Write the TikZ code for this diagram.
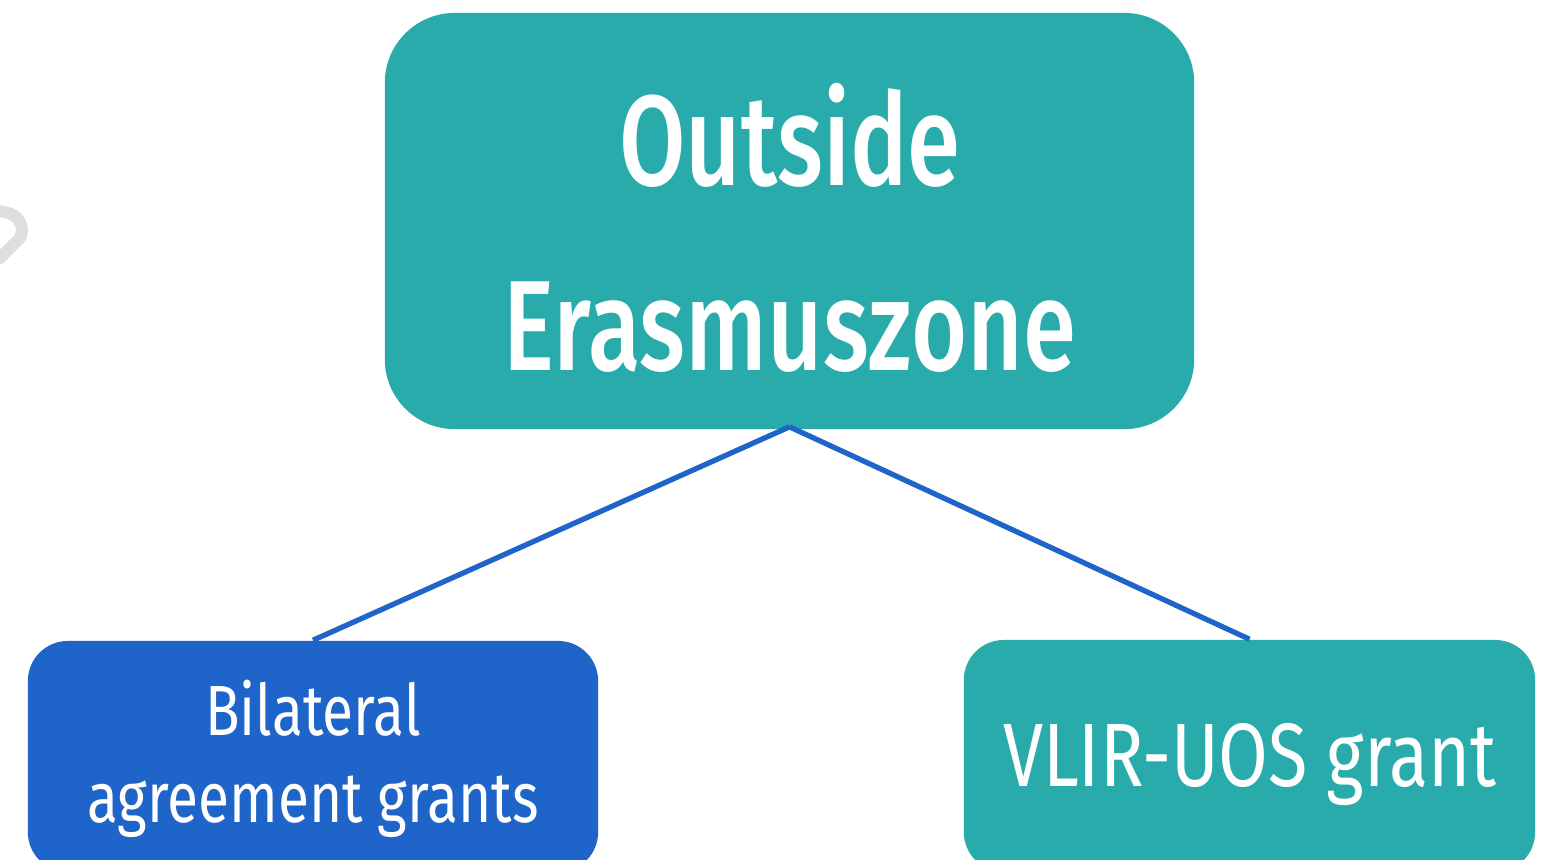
\documentclass[tikz,border=0pt]{standalone}
\usepackage{fontspec}
\setmainfont{Fira Sans}[FakeStretch=0.80]
\newfontfamily\headfont{Fira Sans Medium}[FakeStretch=0.75]
\definecolor{teal1}{RGB}{41,171,172}
\definecolor{blue1}{RGB}{31,100,200}
\definecolor{ghost}{RGB}{222,222,222}
\tikzset{
  box/.style={draw=none, rounded corners=#1, inner sep=0pt},
  lbl/.style={text=white, anchor=base, inner sep=0pt},
  link/.style={draw=blue1, line width=1.5pt},
}
\begin{document}
\begin{tikzpicture}[x=0.01cm,y=-0.01cm]
\useasboundingbox (0,0) rectangle (1550,859);
\clip (0,0) rectangle (1550,859);
\fill[white] (0,0) rectangle (1550,859);
% faint partial shape at left edge
\draw[ghost, line width=3.4pt, line cap=round] (-10,212) .. controls (10,208) and (28,220) .. (20,238) -- (0,258);
% boxes
\node[box=0.7cm, fill=teal1, minimum width=8.09cm, minimum height=4.16cm] (top) at (789.5,221) {};
\node[box=0.4cm, fill=blue1, minimum width=5.70cm, minimum height=2.31cm] (bl) at (313,756.5) {};
\node[box=0.4cm, fill=teal1, minimum width=5.71cm, minimum height=2.32cm] (br) at (1249.5,756) {};
% connectors
\draw[link] ([yshift=0.03cm]top.south) -- (bl.north);
\draw[link] ([yshift=0.03cm]top.south) -- (br.north);
% texts
\node[lbl, font=\headfont\fontsize{36.5}{40}\selectfont] (t1) at (790,185) {Outside};
\node[lbl, font=\headfont\fontsize{36.5}{40}\selectfont] (t2) at (790,370) {Erasmuszone};
\node[lbl, font=\fontsize{20.2}{24}\selectfont] (b1) at (313,735) {Bilateral};
\node[lbl, font=\fontsize{20.2}{24}\selectfont] (b2) at (313,822) {agreement grants};
\node[lbl, font=\fontsize{25.6}{28}\selectfont] (r1) at (1250,786) {VLIR-UOS grant};
\end{tikzpicture}
\end{document}
